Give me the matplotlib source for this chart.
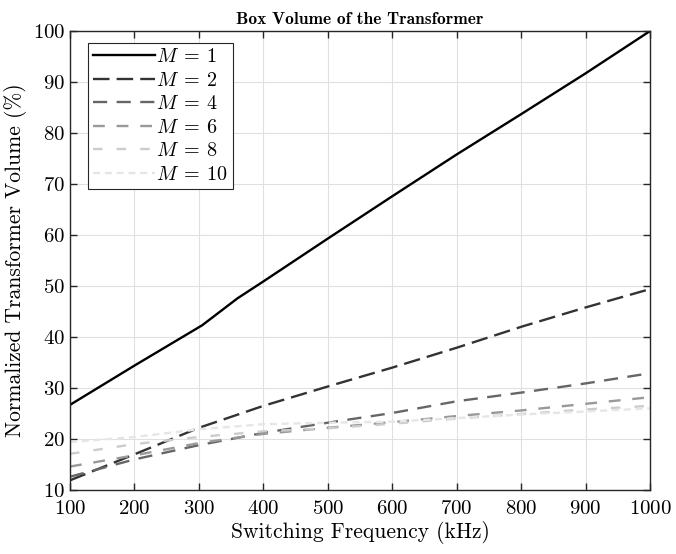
import numpy as np
import matplotlib
matplotlib.use("Agg")
from matplotlib import pyplot as plt

plt.rcParams['font.family'] = ['cmr10', 'DejaVu Serif']
plt.rcParams['mathtext.fontset'] = 'cm'
plt.rcParams['axes.formatter.use_mathtext'] = True

# Data
freq = [100, 200, 300, 400, 500, 600, 700, 800, 900, 1000]
freq_m1 = [100, 200, 305, 360, 400, 500, 600, 700, 800, 900, 1000]
vol_m1 = [26.7, 34.4, 42.3, 47.6, 50.9, 59.3, 67.6, 75.8, 83.7, 91.7, 100]
vol_m2 = [11.9, 17.0, 22.2, 26.5, 30.3, 34.0, 37.9, 42.0, 45.8, 49.4]
vol_m4 = [12.6, 16.0, 18.8, 21.2, 23.2, 25.1, 27.4, 29.1, 30.9, 32.9]
vol_m6 = [14.6, 16.8, 19.2, 21.0, 22.2, 23.3, 24.5, 25.6, 26.9, 28.2]
vol_m8 = [17.1, 19.0, 20.4, 21.5, 22.1, 23.0, 24.0, 24.9, 25.8, 26.5]
vol_m10 = [19.4, 20.4, 21.9, 22.9, 23.2, 23.4, 24.1, 24.8, 25.4, 26.0]
labels = [r'$M\:=\:1$', r'$M\:=\:2$', r'$M\:=\:4$', r'$M\:=\:6$', r'$M\:=\:8$', r'$M\:=\:10$']

fig = plt.figure(figsize=(6.76, 5.54), dpi=100)
ax = fig.add_axes([0.1036, 0.1155, 0.858, 0.8285])

# line styles: gray level and dash pattern per M
ax.plot(freq_m1, vol_m1, color='black', lw=1.7, label=labels[0])
ax.plot(freq, vol_m2, color='0.2', lw=1.7, dashes=(7, 3), label=labels[1])
ax.plot(freq, vol_m4, color='0.4', lw=1.7, dashes=(6, 4), label=labels[2])
ax.plot(freq, vol_m6, color='0.6', lw=1.7, dashes=(5, 5), label=labels[3])
ax.plot(freq, vol_m8, color='0.8', lw=1.7, dashes=(4, 6), label=labels[4])
ax.plot(freq, vol_m10, color='0.9', lw=1.7, dashes=(3, 2), label=labels[5])

ax.set_xlim(100, 1000)
ax.set_ylim(10, 100)
ax.set_xticks(np.arange(100, 1001, 100))
ax.set_yticks(np.arange(10, 101, 10))
ax.tick_params(direction='in', top=True, right=True, labelsize=15, length=5,
               color='0.15', width=1)
ax.tick_params(axis='x', pad=7)
ax.grid(True, color='0.88', lw=0.8)
for s in ax.spines.values():
    s.set_color('0.15')
    s.set_linewidth(1)

ax.set_xlabel('Switching Frequency (kHz)', fontsize=15.5, labelpad=2)
ax.set_ylabel('Normalized Transformer Volume (%)', fontsize=15.5, labelpad=4)
ax.set_title('Box Volume of the Transformer', fontsize=12.5, family='cmb10', pad=5)

leg = ax.legend(loc='upper left', bbox_to_anchor=(0.031, 0.974), borderaxespad=0,
                fontsize=14.5, handlelength=3.1, handletextpad=0.05,
                labelspacing=0.27, borderpad=0.25, fancybox=False, framealpha=1)
leg.get_frame().set_edgecolor('0.15')
leg.get_frame().set_linewidth(0.8)

plt.savefig('out.png', dpi=100)
